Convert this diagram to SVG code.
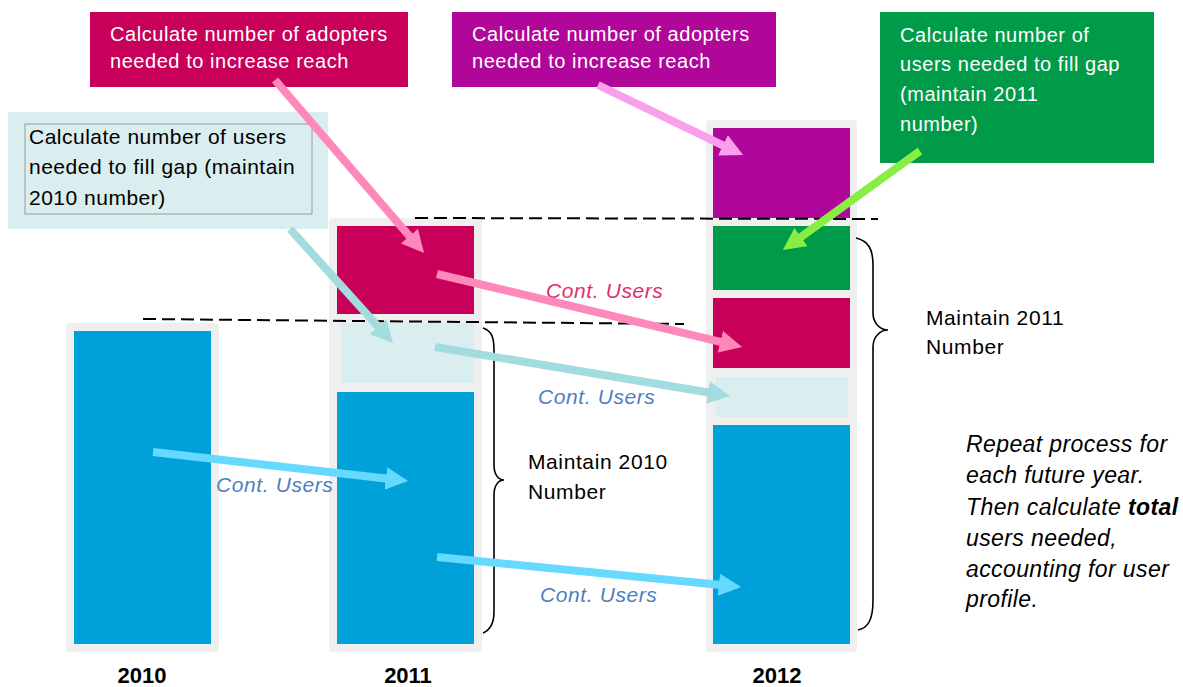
<svg xmlns="http://www.w3.org/2000/svg" width="1183" height="687" viewBox="0 0 1183 687">
<style>
text{font-family:"Liberation Sans",Arial,sans-serif}
.wt{fill:#ffffff;font-size:20px;letter-spacing:0.55px}
.bx{fill:#000000;font-size:21px;letter-spacing:0.5px}
.bk{fill:#000000;font-size:21px;letter-spacing:0.6px}
.it{fill:#000000;font-size:23px;font-style:italic;letter-spacing:0.4px}
.cu{fill:#4F7FC0;font-size:21px;font-style:italic;letter-spacing:0.6px}
.cp{fill:#E0306A;font-size:21px;font-style:italic;letter-spacing:0.6px}
.yr{fill:#000000;font-size:22px;font-weight:bold;text-anchor:middle}
.bg{fill:#EFEFEF}
.blue{fill:#00A0D8}
.crim{fill:#C8005A}
.purp{fill:#B0079A}
.grn{fill:#009B48}
.lt{fill:#DAEEF0}
.dash{stroke:#000;stroke-width:2;stroke-dasharray:13,6;fill:none}
.brace{stroke:#000;stroke-width:1.6;fill:none}
.arr{stroke-width:8;fill:none;stroke-linecap:butt}
</style>
<defs>
<marker id="mPink" viewBox="0 0 10 10" refX="1" refY="5" markerWidth="2.8" markerHeight="2.8" orient="auto"><path d="M0,0 L10,5 L0,10 z" fill="#FF88BB"/></marker>
<marker id="mLpink" viewBox="0 0 10 10" refX="1" refY="5" markerWidth="2.8" markerHeight="2.8" orient="auto"><path d="M0,0 L10,5 L0,10 z" fill="#F9A0EC"/></marker>
<marker id="mGreen" viewBox="0 0 10 10" refX="1" refY="5" markerWidth="2.8" markerHeight="2.8" orient="auto"><path d="M0,0 L10,5 L0,10 z" fill="#88EE44"/></marker>
<marker id="mTeal" viewBox="0 0 10 10" refX="1" refY="5" markerWidth="2.8" markerHeight="2.8" orient="auto"><path d="M0,0 L10,5 L0,10 z" fill="#A3DCDE"/></marker>
<marker id="mSky" viewBox="0 0 10 10" refX="1" refY="5" markerWidth="2.8" markerHeight="2.8" orient="auto"><path d="M0,0 L10,5 L0,10 z" fill="#66D9FF"/></marker>
</defs>
<rect width="1183" height="687" fill="#ffffff"/>

<g id="bar2010">
<rect class="bg" x="66" y="323" width="153" height="329" rx="4"/>
<rect class="blue" x="74" y="331" width="137" height="313"/>
<text class="yr" x="142" y="683">2010</text>
</g>

<g id="bar2011">
<rect class="bg" x="329" y="218" width="153" height="434" rx="4"/>
<rect class="crim" x="337" y="226" width="137" height="88"/>
<rect class="lt" x="341" y="323" width="133" height="60"/>
<rect class="blue" x="337" y="392" width="137" height="252"/>
<text class="yr" x="408" y="683">2011</text>
</g>

<g id="bar2012">
<rect class="bg" x="706" y="120" width="151" height="532" rx="4"/>
<rect class="purp" x="713" y="128" width="137" height="90"/>
<rect class="grn" x="713" y="226" width="137" height="64"/>
<rect class="crim" x="713" y="298" width="137" height="70"/>
<rect class="lt" x="716" y="377" width="132" height="40"/>
<rect class="blue" x="713" y="425" width="137" height="219"/>
<text class="yr" x="777" y="683">2012</text>
</g>

<g id="guides">
<path class="dash" d="M415,218 L878,219"/>
<path class="dash" d="M143,319 L684,324"/>
</g>

<g id="brace2010">
<path class="brace" d="M483,328 C492,331 494,338 494,350 L494,465 C494,474 498,480 504,480 C498,480 494,486 494,495 L494,612 C494,624 490,630 483,633"/>
<text class="bk" x="528" y="469">Maintain 2010</text>
<text class="bk" x="528" y="499">Number</text>
</g>

<g id="brace2011">
<path class="brace" d="M856,238 C869,241 873,250 873,265 L873,313 C873,323 880,330 888,330 C880,330 873,337 873,347 L873,600 C873,620 868,628 858,630"/>
<text class="bk" x="926" y="325">Maintain 2011</text>
<text class="bk" x="926" y="354">Number</text>
</g>

<g id="note">
<text class="it" x="966" y="452">Repeat process for</text>
<text class="it" x="966" y="483">each future year.</text>
<text class="it" x="966" y="515">Then calculate <tspan font-weight="bold">total</tspan></text>
<text class="it" x="966" y="546">users needed,</text>
<text class="it" x="966" y="577">accounting for user</text>
<text class="it" x="966" y="607">profile.</text>
</g>

<g id="box-adopters-2011">
<rect class="crim" x="90" y="12" width="318" height="75"/>
<text class="wt" x="110" y="41">Calculate number of adopters</text>
<text class="wt" x="110" y="68">needed to increase reach</text>
</g>

<g id="box-adopters-2012">
<rect class="purp" x="452" y="12" width="324" height="75"/>
<text class="wt" x="472" y="41">Calculate number of adopters</text>
<text class="wt" x="472" y="68">needed to increase reach</text>
</g>

<g id="box-fill-2011">
<rect class="grn" x="880" y="12" width="274" height="151"/>
<text class="wt" x="900" y="42">Calculate number of</text>
<text class="wt" x="900" y="71">users needed to fill gap</text>
<text class="wt" x="900" y="101">(maintain 2011</text>
<text class="wt" x="900" y="131">number)</text>
</g>

<g id="box-fill-2010">
<rect class="lt" x="8" y="112" width="320" height="117"/>
<rect x="25" y="124" width="287" height="90" fill="none" stroke="#9A9A9A" stroke-width="1"/>
<text class="bx" x="29" y="144">Calculate number of users</text>
<text class="bx" x="29" y="174">needed to fill gap (maintain</text>
<text class="bx" x="29" y="205">2010 number)</text>
</g>

<g id="labels">
<text class="cp" x="546" y="298">Cont. Users</text>
<text class="cu" x="538" y="404">Cont. Users</text>
<text class="cu" x="216" y="492">Cont. Users</text>
<text class="cu" x="540" y="602">Cont. Users</text>
</g>

<g id="connectors">
<line class="arr" x1="275" y1="80" x2="410.9" y2="237.8" stroke="#FF88BB" marker-end="url(#mPink)"/>
<line class="arr" x1="437" y1="274" x2="722.5" y2="342.3" stroke="#FF88BB" marker-end="url(#mPink)"/>
<line class="arr" x1="598" y1="85" x2="725" y2="146.3" stroke="#F9A0EC" marker-end="url(#mLpink)"/>
<line class="arr" x1="920" y1="151" x2="799.2" y2="238.3" stroke="#88EE44" marker-end="url(#mGreen)"/>
<line class="arr" x1="290" y1="229" x2="379.6" y2="328.2" stroke="#A3DCDE" marker-end="url(#mTeal)"/>
<line class="arr" x1="435" y1="347" x2="710.3" y2="392.7" stroke="#A3DCDE" marker-end="url(#mTeal)"/>
<line class="arr" x1="153" y1="452" x2="388.1" y2="478.7" stroke="#66D9FF" marker-end="url(#mSky)"/>
<line class="arr" x1="437" y1="557" x2="721.1" y2="585" stroke="#66D9FF" marker-end="url(#mSky)"/>
</g>
</svg>
